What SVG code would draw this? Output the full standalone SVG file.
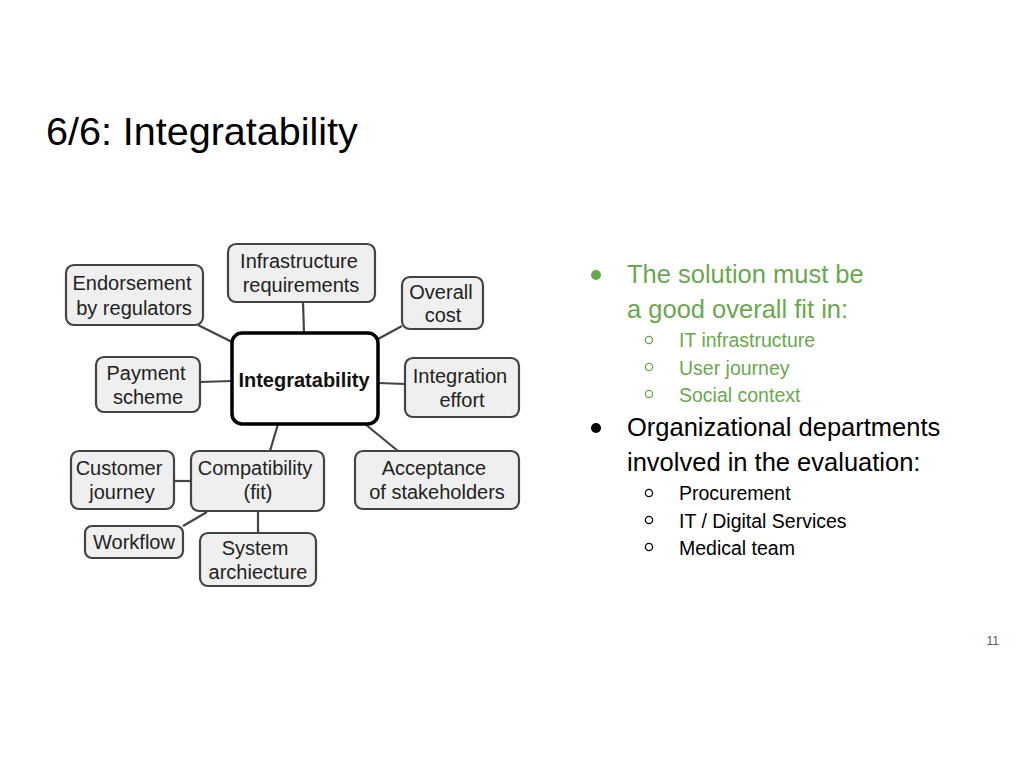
<svg xmlns="http://www.w3.org/2000/svg" width="1024" height="768" viewBox="0 0 1024 768">
<style>
.box{fill:#efefef;stroke:#434343;stroke-width:2.2}
.center{fill:#ffffff;stroke:#000000;stroke-width:3.5}
.t{font-family:"Liberation Sans",Arial,sans-serif;font-size:20px;fill:#222;text-anchor:middle}
.tb{font-family:"Liberation Sans",Arial,sans-serif;font-size:20px;font-weight:bold;fill:#111;text-anchor:middle}
.conn line{stroke:#434343;stroke-width:2.2}
.g{font-family:"Liberation Sans",Arial,sans-serif;fill:#6aa84f}
.k{font-family:"Liberation Sans",Arial,sans-serif;fill:#000}
</style>
<rect width="1024" height="768" fill="#ffffff"/>
<text x="46" y="145" font-family="'Liberation Sans',Arial,sans-serif" font-size="39.5" fill="#000">6/6: Integratability</text>

<g id="connectors" class="conn">
<line x1="198" y1="325" x2="232" y2="342"/>
<line x1="303" y1="302" x2="304" y2="333"/>
<line x1="402" y1="326" x2="378" y2="339"/>
<line x1="200" y1="382" x2="232" y2="381"/>
<line x1="378" y1="383" x2="405" y2="384"/>
<line x1="278" y1="424" x2="270" y2="451"/>
<line x1="365" y1="424" x2="398" y2="451"/>
<line x1="174" y1="481" x2="191" y2="481"/>
<line x1="183" y1="526" x2="207" y2="512"/>
<line x1="258" y1="511" x2="258" y2="533"/>
</g>

<g id="node-endorsement">
<rect class="box" x="66" y="265" width="137" height="60" rx="8"/>
<text class="t" x="132" y="290">Endorsement</text>
<text class="t" x="134" y="315">by regulators</text>
</g>
<g id="node-infrastructure">
<rect class="box" x="228" y="244" width="147" height="58" rx="8"/>
<text class="t" x="299" y="268">Infrastructure</text>
<text class="t" x="301" y="292">requirements</text>
</g>
<g id="node-overall-cost">
<rect class="box" x="402" y="277" width="81" height="52" rx="8"/>
<text class="t" x="441" y="299">Overall</text>
<text class="t" x="443" y="322">cost</text>
</g>
<g id="node-integratability">
<rect class="center" x="232" y="333" width="146" height="91" rx="10"/>
<text class="tb" x="304" y="387">Integratability</text>
</g>
<g id="node-payment">
<rect class="box" x="96" y="357" width="104" height="55" rx="8"/>
<text class="t" x="146" y="380">Payment</text>
<text class="t" x="148" y="404">scheme</text>
</g>
<g id="node-integration-effort">
<rect class="box" x="405" y="358" width="114" height="59" rx="8"/>
<text class="t" x="460" y="383">Integration</text>
<text class="t" x="462" y="407">effort</text>
</g>
<g id="node-customer-journey">
<rect class="box" x="71" y="451" width="103" height="58" rx="8"/>
<text class="t" x="119" y="475">Customer</text>
<text class="t" x="122" y="499">journey</text>
</g>
<g id="node-compatibility">
<rect class="box" x="191" y="451" width="133" height="60" rx="8"/>
<text class="t" x="255" y="475">Compatibility</text>
<text class="t" x="258" y="499">(fit)</text>
</g>
<g id="node-acceptance">
<rect class="box" x="355" y="451" width="164" height="58" rx="8"/>
<text class="t" x="434" y="475">Acceptance</text>
<text class="t" x="437" y="499">of stakeholders</text>
</g>
<g id="node-workflow">
<rect class="box" x="85" y="526" width="98" height="32" rx="7"/>
<text class="t" x="134" y="549">Workflow</text>
</g>
<g id="node-system">
<rect class="box" x="200" y="533" width="116" height="53" rx="8"/>
<text class="t" x="255" y="555">System</text>
<text class="t" x="258" y="579">archiecture</text>
</g>

<g id="bullets">
<circle cx="596" cy="275" r="5" fill="#6aa84f"/>
<text class="g" x="627" y="283" font-size="25.5">The solution must be</text>
<text class="g" x="627" y="318" font-size="25.5">a good overall fit in:</text>
<circle cx="649" cy="340" r="3.6" fill="none" stroke="#6aa84f" stroke-width="1.3"/>
<text class="g" x="679" y="347" font-size="19.5">IT infrastructure</text>
<circle cx="649" cy="367" r="3.6" fill="none" stroke="#6aa84f" stroke-width="1.3"/>
<text class="g" x="679" y="375" font-size="19.5">User journey</text>
<circle cx="649" cy="394" r="3.6" fill="none" stroke="#6aa84f" stroke-width="1.3"/>
<text class="g" x="679" y="402" font-size="19.5">Social context</text>

<circle cx="596" cy="428" r="5" fill="#000"/>
<text class="k" x="627" y="436" font-size="25.5">Organizational departments</text>
<text class="k" x="627" y="471" font-size="25.5">involved in the evaluation:</text>
<circle cx="649" cy="493" r="3.6" fill="none" stroke="#000" stroke-width="1.3"/>
<text class="k" x="679" y="500" font-size="19.5">Procurement</text>
<circle cx="649" cy="520" r="3.6" fill="none" stroke="#000" stroke-width="1.3"/>
<text class="k" x="679" y="528" font-size="19.5">IT / Digital Services</text>
<circle cx="649" cy="547" r="3.6" fill="none" stroke="#000" stroke-width="1.3"/>
<text class="k" x="679" y="555" font-size="19.5">Medical team</text>
</g>

<text x="999" y="645" text-anchor="end" font-family="'Liberation Sans',Arial,sans-serif" font-size="12" fill="#595959">11</text>
</svg>
